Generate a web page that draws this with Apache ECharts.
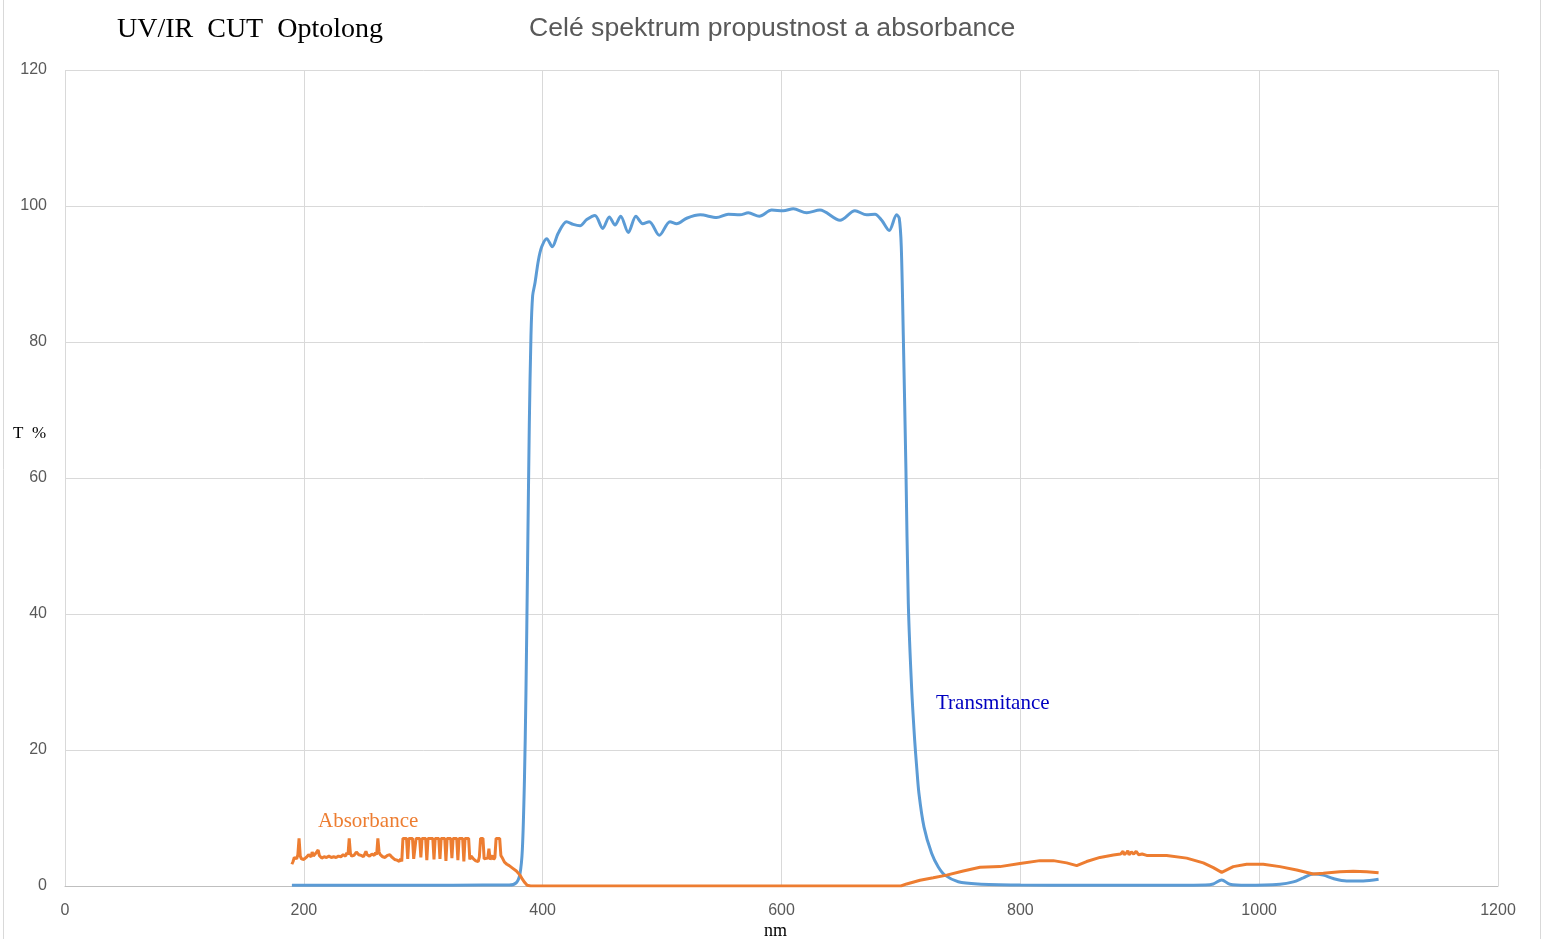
<!DOCTYPE html>
<html>
<head>
<meta charset="utf-8">
<script src="https://cdn.jsdelivr.net/npm/echarts@6/dist/echarts.min.js"></script>
<style>
html,body{margin:0;padding:0;background:#fff;}
#chart{width:1549px;height:939px;}
</style>
</head>
<body>
<div id="chart"></div>
<script>
// ---- data ----
var xTicks = [0, 200, 400, 600, 800, 1000, 1200];
var yTicks = [0, 20, 40, 60, 80, 100, 120];

var transX = [190, 250, 300, 350, 372, 378, 381, 383, 384.7, 386, 387.4, 388.8, 390.2, 391.6, 393.6, 396.4, 399.2, 403.4, 408, 413, 420, 425.6, 431.3, 436.9, 443.8, 450.3, 455.8, 460.6, 465.3, 471.7, 478.1, 483.8, 489.3, 497.7, 506.6, 512.2, 520.6, 532, 545.7, 555.4, 565.2, 572.2, 581.4, 591.8, 601.5, 609.9, 621.1, 632.2, 649, 661.5, 671.3, 678.3, 683.9, 690.2, 696.4, 698.6, 700.3, 702, 704.2, 706.2, 709, 711.5, 713.2, 715.1, 719.3, 725.7, 731.3, 736.9, 748, 764.5, 800, 850, 900, 955, 961.6, 968.6, 975.5, 989.5, 1017.4, 1028.6, 1037, 1045.3, 1053.7, 1062, 1073.2, 1087.2, 1100];
var transY = [0.1, 0.1, 0.1, 0.15, 0.15, 0.5, 1.8, 5.4, 15.3, 28.4, 48, 67.7, 80.9, 86.8, 88.7, 92, 94, 95.2, 94, 96, 97.7, 97.3, 97.1, 98.0, 98.6, 96.7, 98.4, 97.2, 98.5, 96.1, 98.5, 97.4, 97.7, 95.7, 97.7, 97.4, 98.2, 98.7, 98.3, 98.8, 98.7, 99.0, 98.5, 99.4, 99.3, 99.6, 99.0, 99.4, 97.9, 99.3, 98.7, 98.8, 97.9, 96.4, 98.7, 98.2, 94, 80.9, 61.2, 41.5, 29, 21.5, 17.5, 13.6, 8.7, 4.8, 2.8, 1.6, 0.63, 0.3, 0.15, 0.1, 0.1, 0.15, 0.3, 0.9, 0.25, 0.1, 0.25, 0.6, 1.2, 1.76, 1.6, 1.1, 0.75, 0.75, 1.0];

var absX = [190, 191, 192, 194, 195, 196, 197, 198, 200, 201, 202, 204, 206, 207, 208, 210, 212, 213, 215, 217, 219, 221, 223, 225, 227, 229, 231, 233, 235, 236, 237, 238, 239, 240, 242, 244, 246, 248, 250, 252, 253, 255, 257, 259, 260, 261, 262, 263, 264, 266, 268, 270, 272, 274, 276, 278, 280, 281, 282,
  283, 286, 287, 288, 291, 292, 293, 294, 297, 298, 299, 302, 303, 304, 308, 309, 310, 313, 314, 315, 318, 319, 320, 323, 324, 325, 328, 329, 330, 333, 334, 335, 338, 339, 340, 342, 344, 346, 347, 348, 350, 351, 352, 354, 355, 356, 357, 358, 359, 360, 361, 364, 365, 366, 368, 370, 372, 375, 378, 381, 383, 385, 387, 390,
  700, 704.8, 716, 727.1, 738.3, 752.2, 766.2, 782.9, 799.7, 816.4, 827.6, 838.8, 847.2, 855.5, 866.7, 877.9, 884, 886, 887, 889, 890, 891, 893, 895, 897, 899, 902, 905.8, 922.5, 939.3, 953.2, 961.6, 968.6, 978.3, 989.5, 1003.4, 1017.4, 1031.4, 1045.3, 1053.7, 1067.6, 1078.8, 1090, 1100];
var absY = [3.2, 3.6, 4.2, 4.0, 4.6, 7.0, 4.4, 4.0, 3.9, 3.7, 4.2, 4.6, 4.3, 5.0, 4.4, 4.8, 5.3, 4.5, 4.1, 4.3, 4.2, 4.4, 4.2, 4.3, 4.2, 4.4, 4.3, 4.6, 4.4, 4.9, 4.6, 7.0, 4.8, 4.4, 4.5, 5.0, 4.6, 4.5, 4.3, 5.1, 4.6, 4.4, 4.7, 4.5, 4.9, 4.6, 7.0, 5.0, 4.6, 4.3, 4.2, 4.5, 4.6, 4.2, 3.9, 3.8, 3.6, 4.0, 3.6,
  7.0, 7.0, 4.0, 7.0, 7.0, 4.0, 3.8, 7.0, 7.0, 4.2, 7.0, 7.0, 3.8, 7.0, 7.0, 3.9, 7.0, 7.0, 4.0, 7.0, 7.0, 3.7, 7.0, 7.0, 4.1, 7.0, 7.0, 3.8, 7.0, 7.0, 3.6, 7.0, 7.0, 3.9, 4.4, 4.0, 3.7, 3.6, 4.3, 7.0, 7.0, 4.0, 3.8, 4.1, 5.5, 3.9, 3.8, 4.5, 3.9, 4.2, 7.0, 7.0, 4.5, 4.2, 3.5, 3.2, 3.0, 2.6, 2.2, 1.6, 1.0, 0.5, 0.1, 0,
  0, 0.3, 0.85, 1.2, 1.6, 2.2, 2.75, 2.85, 3.3, 3.73, 3.73, 3.4, 3.0, 3.6, 4.2, 4.55, 4.7, 5.1, 4.6, 4.9, 5.2, 4.6, 5.0, 4.7, 5.1, 4.6, 4.7, 4.5, 4.5, 4.1, 3.4, 2.7, 2.0, 2.85, 3.2, 3.2, 2.85, 2.35, 1.76, 1.86, 2.1, 2.16, 2.1, 1.96];

function pairs(xs, ys) { return xs.map(function (x, i) { return [x, ys[i]]; }); }

var chart = echarts.init(document.getElementById('chart'), null, {renderer: 'canvas'});
var labelColor = '#595959';
var gridColor = '#d9d9d9';

chart.setOption({
  animation: false,
  backgroundColor: '#ffffff',
  grid: {left: 65, right: 51, top: 70, bottom: 53, containLabel: false},
  xAxis: {
    type: 'value', min: xTicks[0], max: xTicks[xTicks.length - 1], interval: 200,
    axisLine: {show: true, lineStyle: {color: '#bfbfbf', width: 1}},
    axisTick: {show: false},
    splitLine: {show: true, lineStyle: {color: gridColor, width: 1}},
    axisLabel: {color: labelColor, fontFamily: 'Liberation Sans', fontSize: 16, margin: 17,
      formatter: function (v) { return String(v); }}
  },
  yAxis: {
    type: 'value', min: yTicks[0], max: yTicks[yTicks.length - 1], interval: 20,
    axisLine: {show: false},
    axisTick: {show: false},
    splitLine: {show: true, lineStyle: {color: gridColor, width: 1}},
    axisLabel: {color: labelColor, fontFamily: 'Liberation Sans', fontSize: 16, margin: 18,
      formatter: function (v) { return String(v); }}
  },
  series: [
    {
      name: 'Transmitance', type: 'line', data: pairs(transX, transY),
      showSymbol: false, smooth: 0.3,
      lineStyle: {color: '#5b9bd5', width: 3}, itemStyle: {color: '#5b9bd5'}, z: 3
    },
    {
      name: 'Absorbance', type: 'line', data: pairs(absX, absY),
      showSymbol: false, smooth: false,
      lineStyle: {color: '#ed7d31', width: 3}, itemStyle: {color: '#ed7d31'}, z: 4
    }
  ],
  graphic: [
    {type: 'line', shape: {x1: 3.5, y1: 0, x2: 3.5, y2: 939}, style: {stroke: '#d9d9d9', lineWidth: 1}},
    {type: 'line', shape: {x1: 1540.5, y1: 0, x2: 1540.5, y2: 939}, style: {stroke: '#d9d9d9', lineWidth: 1}},
    {type: 'text', left: 117, top: 16, style: {text: 'UV/IR  CUT  Optolong', fill: '#000000', font: '28px "Liberation Serif"'}},
    {type: 'text', left: 529, top: 15, style: {text: 'Celé spektrum propustnost a absorbance', fill: '#595959', font: '26.6px "Liberation Sans"'}},
    {type: 'text', left: 13, top: 425, style: {text: 'T  %', fill: '#000000', font: '17px "Liberation Serif"'}},
    {type: 'text', left: 764, top: 922, style: {text: 'nm', fill: '#000000', font: '18px "Liberation Serif"'}},
    {type: 'text', left: 318, top: 811, style: {text: 'Absorbance', fill: '#ed7d31', font: '21px "Liberation Serif"'}},
    {type: 'text', left: 936, top: 693, style: {text: 'Transmitance', fill: '#0000c0', font: '21px "Liberation Serif"'}}
  ]
});
</script>
</body>
</html>
